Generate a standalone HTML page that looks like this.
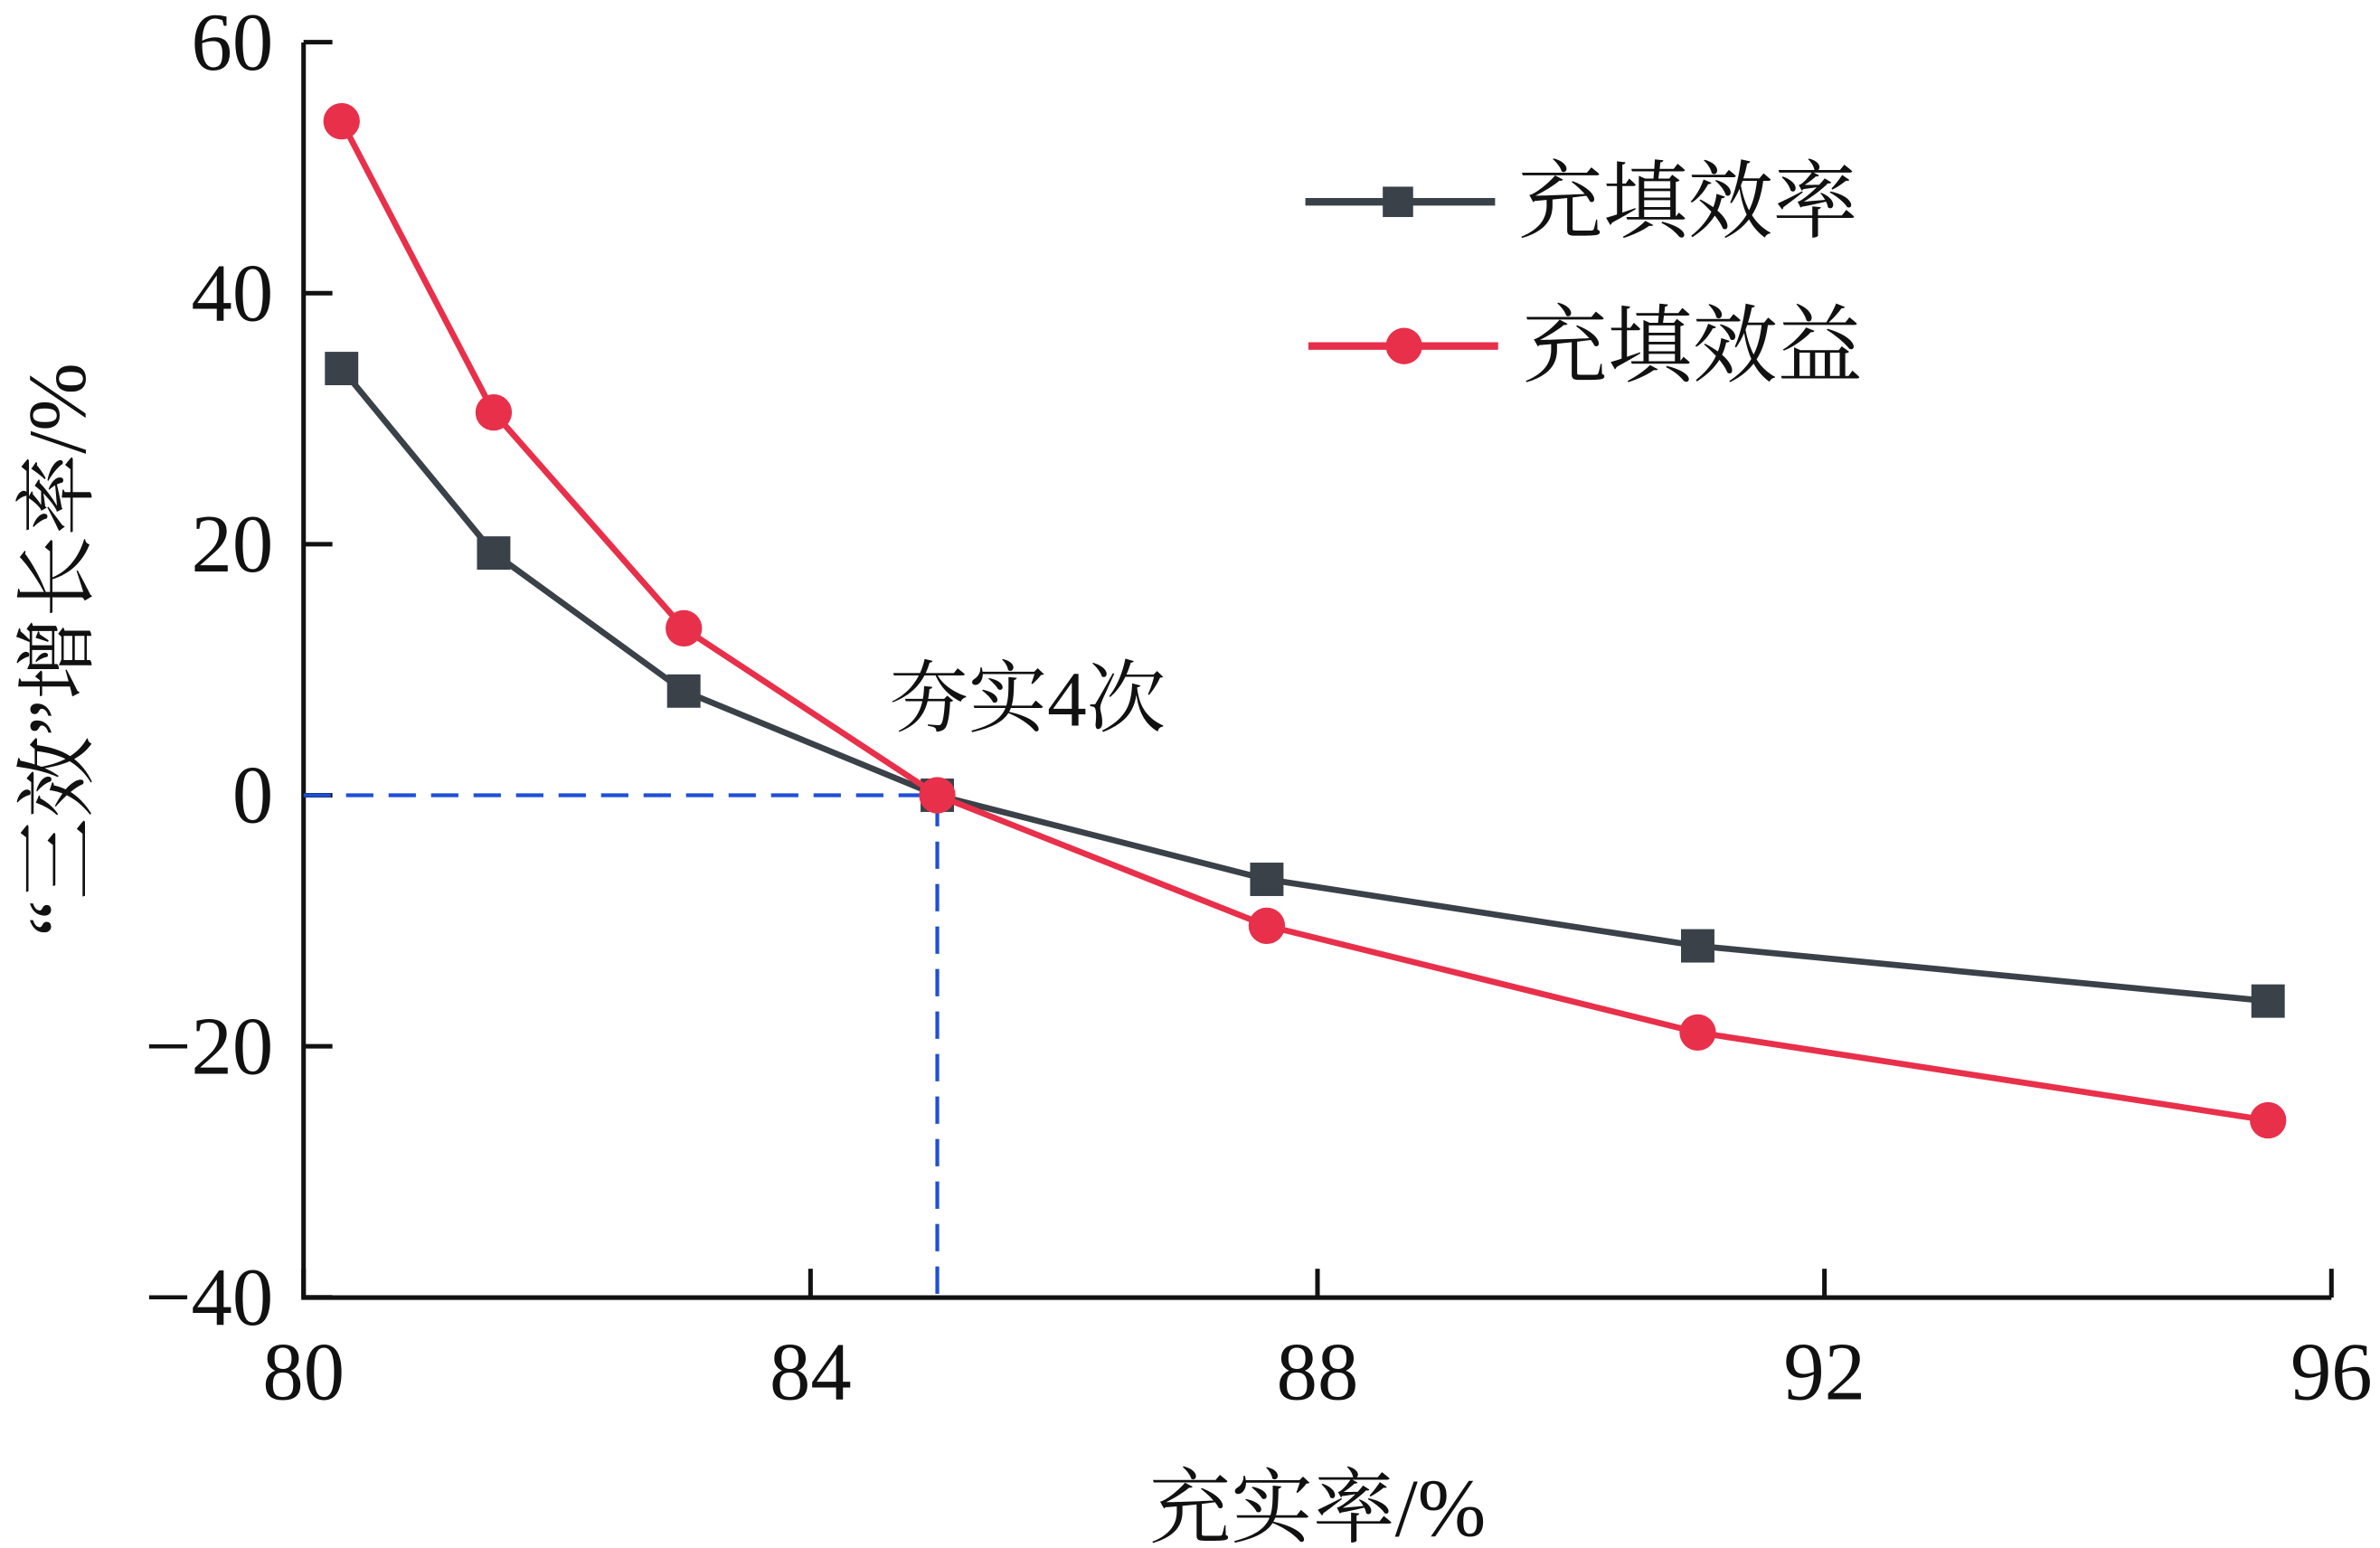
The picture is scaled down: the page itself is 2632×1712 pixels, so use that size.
<!DOCTYPE html>
<html><head><meta charset="utf-8"><style>
html,body{margin:0;padding:0;background:#fff;}
svg{display:block;}
text{font-family:"Liberation Serif","Noto Serif CJK SC",serif;fill:#111;}
</style></head><body>
<svg id="chart" width="2632" height="1712" viewBox="0 0 1568 1020" preserveAspectRatio="none" xmlns="http://www.w3.org/2000/svg">
<g id="axes"></g>
<g id="guides"></g>
<g id="series"></g>
<text x="586" y="478" font-size="52">夯实4次</text>
<text x="868" y="1012" font-size="54" text-anchor="middle">充实率/%</text>
<text transform="translate(56,428) rotate(-90)" font-size="54" text-anchor="middle">“三效”增长率/%</text>
<g>
<line x1="860" y1="133" x2="985" y2="133" stroke="#3a4148" stroke-width="5"/>
<rect x="911" y="123" width="20" height="20" fill="#3a4148"/>
<text x="1000" y="152" font-size="56">充填效率</text>
<line x1="862" y1="228" x2="987" y2="228" stroke="#e8304b" stroke-width="5"/>
<circle cx="925" cy="228" r="12" fill="#e8304b"/>
<text x="1003" y="247" font-size="56">充填效益</text>
</g>
</svg>
<script>
const categories=[80.3,81.5,83.0,85.0,87.6,91.0,95.5];
const efficiency=[34.0,19.3,8.3,0,-6.7,-12.0,-16.4];
const benefit=[53.7,30.5,13.3,0,-10.4,-18.9,-25.9];
const xTicks=[80,84,88,92,96];
const yTicks=[60,40,20,0,-20,-40];
const NS="http://www.w3.org/2000/svg";
const X=v=>200+(v-80)*(1536-200)/16;
const Y=v=>524-(v)*(855-28)/100;
function mk(tag,attrs,parent){const e=document.createElementNS(NS,tag);for(const k in attrs)e.setAttribute(k,attrs[k]);parent.appendChild(e);return e;}
const axes=document.getElementById('axes');
let a=mk('path',{d:`M200 28 V855 H1536`,fill:'none',stroke:'#111','stroke-width':3},axes);


xTicks.forEach(t=>{
 const l=mk('line',{x1:X(t),x2:X(t),y1:855,y2:836,stroke:'#111','stroke-width':3},axes);
 
 
 const tx=mk('text',{x:X(t),y:922,'font-size':54,'text-anchor':'middle'},axes);tx.textContent=t;
 
 
});
yTicks.forEach(t=>{
 const l=mk('line',{x1:200,x2:219,y1:Y(t),y2:Y(t),stroke:'#111','stroke-width':3},axes);
 
 
 const tx=mk('text',{x:180,y:Y(t)+18,'font-size':54,'text-anchor':'end'},axes);tx.textContent=(t<0?'\u2212':'')+Math.abs(t);
 
 
});
const g=document.getElementById('guides');
let h=mk('polyline',{points:`200,${Y(0)} ${X(85)},${Y(0)} ${X(85)},855`,fill:'none',stroke:'#1f4fd6','stroke-width':2.5,'stroke-dasharray':'18 10'},g);


const s=document.getElementById('series');
function series(vals,color,name,marker){
 const grp=mk('g',{},s);
 
 
 const ln=mk('polyline',{points:categories.map((c,i)=>X(c)+','+Y(vals[i])).join(' '),fill:'none',stroke:color,'stroke-width':4},grp);
 
 
 categories.forEach((c,i)=>{
  let m;
  if(marker==='sq') m=mk('rect',{x:X(c)-11,y:Y(vals[i])-11,width:22,height:22,fill:color},grp);
  else m=mk('circle',{cx:X(c),cy:Y(vals[i]),r:12,fill:color},grp);
  
  
 });
}
series(efficiency,'#3a4148','efficiency-series','sq');
series(benefit,'#e8304b','benefit-series','circle');
</script>
</body></html>
